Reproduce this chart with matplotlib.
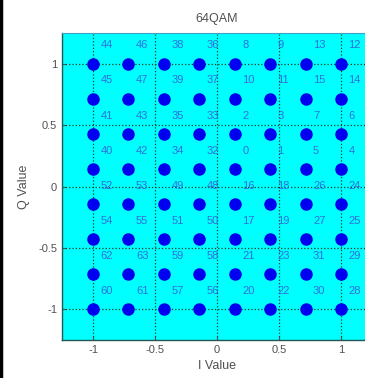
import numpy as np
import matplotlib
matplotlib.use('Agg')
import matplotlib.pyplot as plt
from matplotlib.lines import Line2D

# 64QAM constellation levels (same on I and Q)
levels = [-1, -5/7, -3/7, -1/7, 1/7, 3/7, 5/7, 1]

# symbol numbers, rows from top (Q = 1) to bottom (Q = -1), columns from I = -1 to 1
symbol_rows = [
    [44, 46, 38, 36, 8, 9, 13, 12],
    [45, 47, 39, 37, 10, 11, 15, 14],
    [41, 43, 35, 33, 2, 3, 7, 6],
    [40, 42, 34, 32, 0, 1, 5, 4],
    [52, 53, 49, 48, 16, 18, 26, 24],
    [54, 55, 51, 50, 17, 19, 27, 25],
    [62, 63, 59, 58, 21, 23, 31, 29],
    [60, 61, 57, 56, 20, 22, 30, 28],
]

ticks = [-1, -0.5, 0, 0.5, 1]
tick_labels = ['-1', '-0.5', '0', '0.5', '1']

plt.rcParams['font.family'] = ['Liberation Sans', 'DejaVu Sans']

fig = plt.figure(figsize=(3.65, 3.78), dpi=100)
ax = fig.add_axes([0.170, 0.1005, 0.849, 0.812])
ax.set_facecolor('#00ffff')

q_vals = levels[::-1]
for r, row in enumerate(symbol_rows):
    q = q_vals[r]
    for c, sym in enumerate(row):
        i = levels[c]
        ax.plot(i, q, 'o', color='#0000f0', markersize=8, zorder=3)
        ax.text(i + 0.06, q + 0.15, str(sym), color='#3070d8', fontsize=8,
                ha='left', va='center', zorder=4)

ax.set_xlim(-1.25, 1.25)
ax.set_ylim(-1.25, 1.25)
ax.set_xticks(ticks)
ax.set_xticklabels(tick_labels)
ax.set_yticks(ticks)
ax.set_yticklabels(tick_labels)
ax.grid(True, color='#104020', linestyle=':', linewidth=0.9)
ax.set_axisbelow(True)
ax.tick_params(direction='in', length=3, labelsize=8, colors='#505050',
               top=False, right=False)
for s in ['left', 'bottom']:
    ax.spines[s].set_color('#205858')
    ax.spines[s].set_linewidth(1.0)
ax.spines['top'].set_color('#40a0c0')
ax.spines['right'].set_visible(False)

ax.set_title('64QAM', fontsize=9, color='#505050', pad=8)
ax.set_xlabel('I Value', fontsize=9, color='#505050', labelpad=4)
ax.set_ylabel('Q Value', fontsize=9, color='#505050', labelpad=6)

# black edge on the left of the picture
fig.add_artist(Line2D([0.003, 0.003], [0, 1], color='black', linewidth=2.5,
                      transform=fig.transFigure))

fig.savefig('out.png', dpi=100)
